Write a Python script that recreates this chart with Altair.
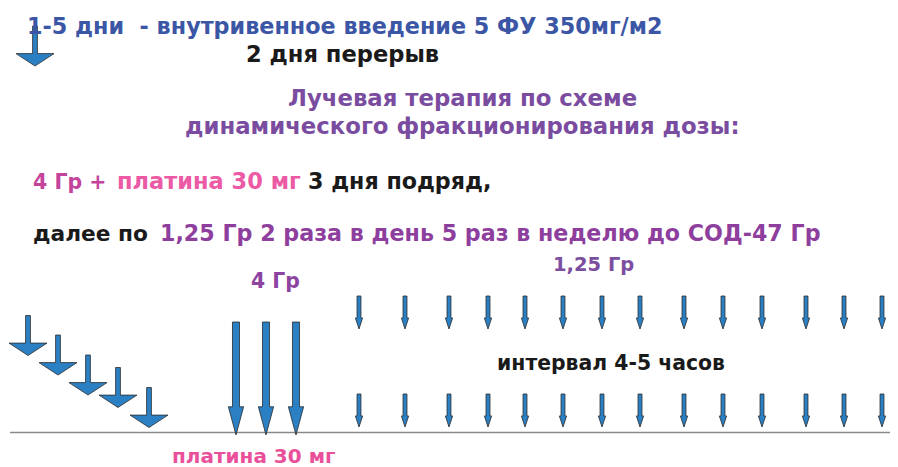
import altair as alt
import pandas as pd

# ---------------- data (image pixel coordinates) ----------------
# 5-FU arrows (days 1-5): x position, top and tip
fu_x = [28, 58, 88, 118, 149]
fu_top = [316, 335, 355, 368, 388]
fu_tip = [355, 375, 395, 407, 427]
legend_arrow_x = [35]
legend_arrow_top = [26]
legend_arrow_tip = [66]

# 4 Gy + platinum arrows
big_x = [236, 266, 296]
big_top = [322, 322, 322]
big_tip = [435, 435, 435]

# 1.25 Gy fractions (two per day)
small_x = [359, 405, 449, 488, 525, 563, 602, 640, 684, 723, 762, 806, 844, 882]
small_top_row = [296] * 14
small_bottom_row = [394] * 14
small_len = 33

baseline_y = [432.5]
baseline_x = [10]
baseline_x2 = [898]

# text segments: text, left x, baseline y, color, font size
texts = [
    ("1-5 дни\u00a0 - внутривенное введение 5 ФУ 350мг/м2", 27, 34, "#3c56a6", 22.3),
    ("2 дня перерыв", 246, 62, "#1a1a1a", 22.6),
    ("Лучевая терапия по схеме", 288, 106, "#7a4c9f", 22.8),
    ("динамического фракционирования дозы:", 185, 134, "#7a4c9f", 22.8),
    ("4 Гр +", 33, 189, "#c4449c", 20.5),
    ("платина 30 мг", 117, 189, "#ec5aa5", 22.5),
    ("3 дня подряд,", 308, 189, "#1a1a1a", 22.2),
    ("далее по", 33, 241, "#1a1a1a", 21.7),
    ("1,25 Гр 2 раза в день 5 раз в неделю до СОД-47 Гр", 160, 241, "#8e3f9e", 22.2),
    ("1,25 Гр", 553, 271, "#7c4ea0", 19.5),
    ("4 Гр", 251, 288, "#8d44a0", 20.4),
    ("интервал 4-5 часов", 497, 370, "#1a1a1a", 20.4),
    ("платина 30 мг", 172, 463, "#ea4f9a", 20),
]

# ---------------- build tables ----------------
W, H = 882, 459
OX, OY = 8, 8
xs = alt.Scale(domain=[OX, OX + W], nice=False, zero=False)
ys = alt.Scale(domain=[OY, OY + H], reverse=True, nice=False, zero=False)

FILL = "#2b7fc3"
EDGE = "#2b2b2b"

def arrows(xl, tops, tips):
    return pd.DataFrame({"x": xl, "yc": [(a + b) / 2 for a, b in zip(tops, tips)]})

stair_df = arrows(fu_x + legend_arrow_x, fu_top + legend_arrow_top, fu_tip + legend_arrow_tip)
big_df = arrows(big_x, big_top, big_tip)
small_df = pd.concat([
    arrows(small_x, small_top_row, [t + small_len for t in small_top_row]),
    arrows(small_x, small_bottom_row, [t + small_len for t in small_bottom_row]),
])

STAIR = "M-0.12,-1L0.12,-1L0.12,0.38L0.95,0.38L0,1L-0.95,0.38L-0.12,0.38Z"
BIG = "M-0.062,-1L0.062,-1L0.062,0.5L0.135,0.5L0,1L-0.135,0.5L-0.062,0.5Z"
SMALL = "M-0.12,-1L0.12,-1L0.12,0.33L0.22,0.33L0,1L-0.22,0.33L-0.12,0.33Z"

def arrow_layer(df, shape, s):
    return alt.Chart(df).mark_point(
        shape=shape, filled=True, fill=FILL, stroke=EDGE, strokeWidth=0.8,
        opacity=1, size=s * s,
    ).encode(
        x=alt.X("x:Q", scale=xs, axis=None),
        y=alt.Y("yc:Q", scale=ys, axis=None),
    )

stair = arrow_layer(stair_df, STAIR, 40)
big = arrow_layer(big_df, BIG, 113)
small = arrow_layer(small_df, SMALL, small_len)

base_df = pd.DataFrame({"x": baseline_x, "x2": baseline_x2, "y": baseline_y})
base = alt.Chart(base_df).mark_rule(color="#8a8a8a", strokeWidth=1.5).encode(
    x=alt.X("x:Q", scale=xs, axis=None),
    x2="x2:Q",
    y=alt.Y("y:Q", scale=ys, axis=None),
)

text_df = pd.DataFrame(texts, columns=["text", "x", "y", "color", "fs"])
txt = alt.Chart(text_df).mark_text(
    align="left", baseline="alphabetic", font="DejaVu Sans", fontWeight="bold",
).encode(
    x=alt.X("x:Q", scale=xs, axis=None),
    y=alt.Y("y:Q", scale=ys, axis=None),
    text="text:N",
    color=alt.Color("color:N", scale=None),
    size=alt.Size("fs:Q", scale=None),
)

chart = alt.layer(base, stair, big, small, txt).properties(
    width=W, height=H, padding=0,
    autosize=alt.AutoSizeParams(type="none"),
    background="white",
).configure_view(stroke=None)

chart.save("out.html", embed_options={"renderer": "svg", "actions": False})
